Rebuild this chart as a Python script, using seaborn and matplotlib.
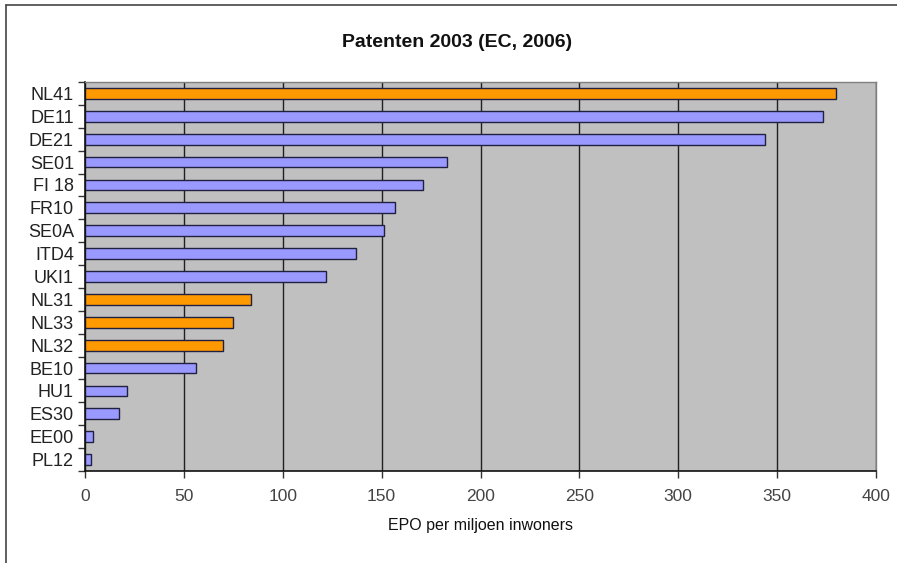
"""Patenten 2003 (EC, 2006) - horizontal bar chart."""
import matplotlib
matplotlib.use("Agg")
import matplotlib.pyplot as plt
from matplotlib.lines import Line2D
import numpy as np
import pandas as pd
import seaborn as sns

regions = ["NL41", "DE11", "DE21", "SE01", "FI 18", "FR10", "SE0A", "ITD4", "UKI1",
           "NL31", "NL33", "NL32", "BE10", "HU1", "ES30", "EE00", "PL12"]
patents = [380, 373, 344, 183, 171, 157, 151, 137, 122,
           84, 75, 70, 56, 21, 17, 4, 3]
is_dutch = [r.startswith("NL") for r in regions]

df = pd.DataFrame({"region": regions, "value": patents,
                   "group": ["NL" if d else "other" for d in is_dutch]})

BLUE = "#9999FF"
ORANGE = "#FF9900"

sns.set_style("white")
plt.rcParams["font.family"] = ["Liberation Sans", "DejaVu Sans"]

fig = plt.figure(figsize=(8.97, 5.63), dpi=100)
ax = fig.add_axes([0.0948, 0.1634, 0.8818, 0.691])

sns.barplot(data=df, x="value", y="region", hue="group",
            palette={"NL": ORANGE, "other": BLUE}, dodge=False, saturation=1,
            width=0.47, orient="h", legend=False, ax=ax)
for bar in ax.patches:
    bar.set_edgecolor("#202040")
    bar.set_linewidth(1.0)

ax.set_facecolor("#C0C0C0")
ax.set_xlim(0, 400)
ax.set_ylim(len(regions) - 0.5, -0.5)
ax.set_xticks(np.arange(0, 401, 50))
ax.xaxis.grid(True, color="#202020", linewidth=1.0)
ax.set_axisbelow(True)

# category boundary tick marks (Excel style)
ax.set_yticks(np.arange(len(regions) + 1) - 0.5, minor=True)
ax.tick_params(axis="y", which="major", length=0, labelsize=13, pad=8, labelcolor="#222222")
ax.tick_params(axis="y", which="minor", length=5, width=1, color="#333333", left=True)
ax.tick_params(axis="x", which="major", length=5, width=1, color="#333333", bottom=True,
               labelsize=12.5, labelcolor="#444444", pad=8)

for side in ["top", "right"]:
    ax.spines[side].set_color("#808080")
    ax.spines[side].set_linewidth(1)
for side in ["left", "bottom"]:
    ax.spines[side].set_color("#111111")
    ax.spines[side].set_linewidth(1.2)

ax.set_ylabel("")
ax.set_xlabel("EPO per miljoen inwoners", fontsize=11.5, labelpad=10, color="#111111")
fig.text(0.51, 0.925, "Patenten 2003 (EC, 2006)", ha="center", va="center",
         fontsize=14, fontweight="bold", color="#111111")

# chart area frame (left and top edges visible)
fig.add_artist(Line2D([0.0067, 0.0067], [0.0, 0.991], color="#444444", linewidth=1.2,
                      transform=fig.transFigure))
fig.add_artist(Line2D([0.0067, 1.0], [0.991, 0.991], color="#444444", linewidth=1.2,
                      transform=fig.transFigure))

fig.savefig("out.png", dpi=100)
